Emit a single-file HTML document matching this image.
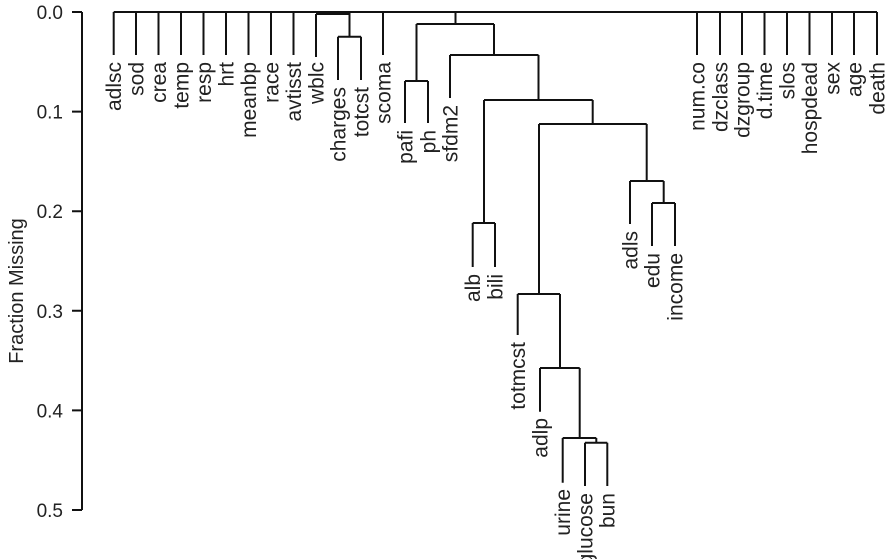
<!DOCTYPE html>
<html><head><meta charset="utf-8"><style>body{margin:0;background:#fff}svg{display:block}</style></head><body>
<svg width="886" height="559" xmlns="http://www.w3.org/2000/svg" font-family="Liberation Sans, sans-serif" font-size="19" fill="#222">
<g stroke="#111" stroke-width="2" fill="none">
<path d="M82 12V510M72 12H82M72 111.6H82M72 211.2H82M72 310.8H82M72 410.4H82M72 510H82"/>
<path d="M113.7 12H877"/>
<path d="M113.7 12V55M136 12V55M158.5 12V55M181 12V55M203.5 12V55M226 12V55M248.5 12V55M271 12V55M293.5 12V55M383 12V55"/>
<path d="M697 12V55M720 12V55M742 12V55M764.5 12V55M787 12V55M809.5 12V55M832 12V55M854 12V55M877 12V55"/>
<path d="M349.5 12V14M316 14H349.5M316 14V57M349.5 14V36.7M338 36.7H361M338 36.7V80M361 36.7V80"/>
<path d="M455.5 12V24M416.5 24H494M416.5 24V81M405 81H428M405 81V123M428 81V123"/>
<path d="M494 24V55M450 55H538.5M450 55V98M538.5 55V100M484 100H592.7"/>
<path d="M484 100V223M472.7 223H495M472.7 223V267M495 223V267"/>
<path d="M592.7 100V124M539 124H646.7"/>
<path d="M646.7 124V181M630 181H663.7M630 181V224M663.7 181V203M652 203H675M652 203V246M675 203V246"/>
<path d="M539 124V294M517.7 294H560M517.7 294V335M560 294V368M540 368H579.7M540 368V411.7M579.7 368V438M562.7 438H596.3M562.7 438V482.7M596.3 438V442.7M585 442.7H607.3M585 442.7V486M607.3 442.7V486"/>
</g>
<g text-anchor="end">
<text x="63" y="19">0.0</text><text x="63" y="118.6">0.1</text><text x="63" y="218.2">0.2</text><text x="63" y="317.8">0.3</text><text x="63" y="417.4">0.4</text><text x="63" y="517">0.5</text>
</g>
<text transform="translate(23,291) rotate(-90)" text-anchor="middle" font-size="20">Fraction Missing</text>
<g text-anchor="end" font-size="21">
<text transform="translate(121,62) rotate(-90)">adlsc</text>
<text transform="translate(143.3,62) rotate(-90)">sod</text>
<text transform="translate(165.8,62) rotate(-90)">crea</text>
<text transform="translate(188.3,62) rotate(-90)">temp</text>
<text transform="translate(210.8,62) rotate(-90)">resp</text>
<text transform="translate(233.3,62) rotate(-90)">hrt</text>
<text transform="translate(255.8,62) rotate(-90)">meanbp</text>
<text transform="translate(278.3,62) rotate(-90)">race</text>
<text transform="translate(300.8,62) rotate(-90)">avtisst</text>
<text transform="translate(323.3,62) rotate(-90)">wblc</text>
<text transform="translate(345.3,87) rotate(-90)">charges</text>
<text transform="translate(368.3,87) rotate(-90)">totcst</text>
<text transform="translate(390.3,62) rotate(-90)">scoma</text>
<text transform="translate(412.3,130) rotate(-90)">pafi</text>
<text transform="translate(435.3,130) rotate(-90)">ph</text>
<text transform="translate(457.3,105) rotate(-90)">sfdm2</text>
<text transform="translate(480,274) rotate(-90)">alb</text>
<text transform="translate(502.3,274) rotate(-90)">bili</text>
<text transform="translate(525,342) rotate(-90)">totmcst</text>
<text transform="translate(547.3,418) rotate(-90)">adlp</text>
<text transform="translate(570,489) rotate(-90)">urine</text>
<text transform="translate(592.3,493) rotate(-90)">glucose</text>
<text transform="translate(614.6,493) rotate(-90)">bun</text>
<text transform="translate(637.3,231) rotate(-90)">adls</text>
<text transform="translate(659.3,253) rotate(-90)">edu</text>
<text transform="translate(682.3,253) rotate(-90)">income</text>
<text transform="translate(704.3,62) rotate(-90)">num.co</text>
<text transform="translate(727.3,62) rotate(-90)">dzclass</text>
<text transform="translate(749.3,62) rotate(-90)">dzgroup</text>
<text transform="translate(771.8,62) rotate(-90)">d.time</text>
<text transform="translate(794.3,62) rotate(-90)">slos</text>
<text transform="translate(816.8,62) rotate(-90)">hospdead</text>
<text transform="translate(839.3,62) rotate(-90)">sex</text>
<text transform="translate(861.3,62) rotate(-90)">age</text>
<text transform="translate(884.3,62) rotate(-90)">death</text>
</g>
</svg>
</body></html>
